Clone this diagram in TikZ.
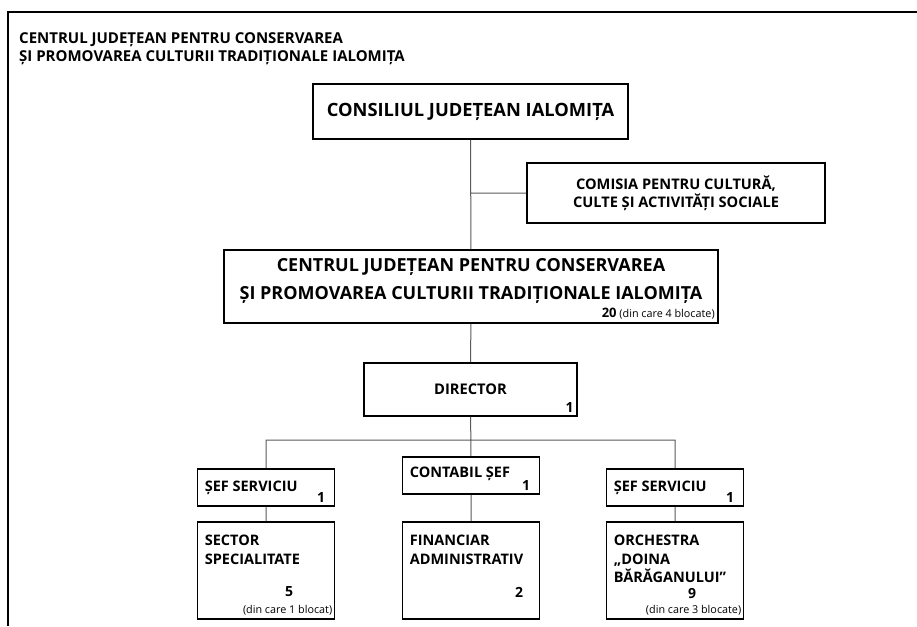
\documentclass[tikz,border=0pt]{standalone}
\usepackage{fontspec}
\setmainfont{Open Sans}
\usetikzlibrary{positioning}

\begin{document}
\begin{tikzpicture}[x=1pt,y=-1pt,
    box/.style={draw, line width=1.8pt, inner sep=0pt},
    small box/.style={box, minimum width=137pt},
    link/.style={draw=black!65, line width=1pt},
    head/.style={font=\bfseries\fontsize{15}{18}\selectfont, align=left, inner sep=0pt},
    unit/.style={font=\bfseries\fontsize{14.5}{18.5}\selectfont, align=left, inner sep=0pt},
    count/.style={font=\bfseries\fontsize{14}{15}\selectfont, inner sep=0pt},
    note/.style={font=\fontsize{10.8}{12}\selectfont, inner sep=0pt}]
\useasboundingbox (0,0) rectangle (917,626);
% page frame
\draw[line width=1.8pt] (8,626) -- (8,12) -- (917,12);
\node[head, anchor=north west] (title) at (19,32) {CENTRUL JUDEȚEAN PENTRU CONSERVAREA\\ȘI PROMOVAREA CULTURII TRADIȚIONALE IALOMIȚA};

% top level
\node[box, minimum width=315pt, minimum height=55pt, font=\bfseries\fontsize{18.3}{20}\selectfont] (cons) at (470.5,111.5) {CONSILIUL JUDEȚEAN IALOMIȚA};
\node[box, minimum width=298pt, minimum height=60pt, align=center, font=\bfseries\fontsize{14.6}{18}\selectfont] (com) at (676,193) {COMISIA PENTRU CULTURĂ,\\CULTE ȘI ACTIVITĂȚI SOCIALE};
\node[box, minimum width=494pt, minimum height=73pt] (centru) at (471,286.5) {};
\node[font=\bfseries\fontsize{18}{28}\selectfont, align=center, inner sep=0pt] (centrutxt) at (471,281) {CENTRUL JUDEȚEAN PENTRU CONSERVAREA\\ȘI PROMOVAREA CULTURII TRADIȚIONALE IALOMIȚA};
\node[note, above left=4pt and 4pt of centru.south east] (centrunr) {\textbf{\fontsize{13}{13}\selectfont 20} (din care 4 blocate)};

\node[box, minimum width=213pt, minimum height=53pt, font=\bfseries\fontsize{14.7}{20}\selectfont] (dir) at (470.5,389.5) {DIRECTOR};
\node[count, above left=4pt and 4pt of dir.south east] (dirnr) {1};

% second level
\node[small box, minimum height=37pt] (sef1) at (266,487.5) {};
\node[small box, minimum height=37pt] (cont) at (471,475.5) {};
\node[small box, minimum height=37pt] (sef2) at (675,487.5) {};
\node[unit, below right=13pt and 8pt of sef1.north west] (sef1txt) {ȘEF SERVICIU};
\node[unit, below right=11pt and 8pt of cont.north west] (conttxt) {CONTABIL ȘEF};
\node[unit, below right=13pt and 8pt of sef2.north west] (sef2txt) {ȘEF SERVICIU};
\node[count, above left=4pt and 10pt of sef1.south east] (sef1nr) {1};
\node[count, above left=4pt and 10pt of cont.south east] (contnr) {1};
\node[count, above left=4pt and 10pt of sef2.south east] (sef2nr) {1};

% third level
\node[small box, minimum height=97pt] (sect) at (266,570.5) {};
\node[small box, minimum height=97pt] (fin) at (471,570.5) {};
\node[small box, minimum height=97pt] (orch) at (675,570.5) {};
\node[unit, below right=14pt and 8pt of sect.north west] (secttxt) {SECTOR\\SPECIALITATE};
\node[unit, below right=14pt and 8pt of fin.north west] (fintxt) {FINANCIAR\\ADMINISTRATIV};
\node[unit, below right=14pt and 8pt of orch.north west] (orchtxt) {ORCHESTRA\\„DOINA\\BĂRĂGANULUI”};
\node[count] (sectnr) at (289,592) {5};
\node[count] (finnr) at (519,592) {2};
\node[count] (orchnr) at (692,594) {9};
\node[note, above left=5pt and 3pt of sect.south east] (sectnote) {(din care 1 blocat)};
\node[note, above left=5pt and 3pt of orch.south east] (orchnote) {(din care 3 blocate)};

% connectors
\coordinate (bus) at (471,440);
\path[link] (cons) -- (centru)
    (com.west) -- (com.west -| cons.south)
    (centru) -- (dir)
    (dir) -- (cont)
    (sef1.north) |- (bus) -| (sef2.north)
    (sef1) -- (sect)
    (cont) -- (fin)
    (sef2) -- (orch);
\end{tikzpicture}
\end{document}
